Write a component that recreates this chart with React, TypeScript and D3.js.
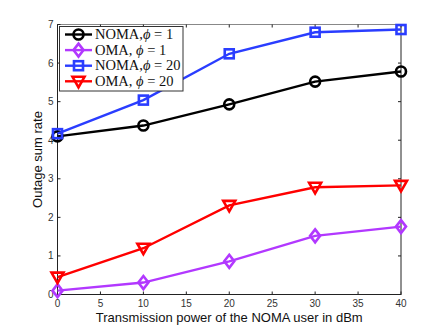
import React from "react";
import * as d3 from "d3";

// transmit power of the NOMA user (dBm)
const powers = [0, 10, 20, 30, 40];

const nomaPhi1 = [4.1, 4.38, 4.93, 5.52, 5.78];
const omaPhi1 = [0.1, 0.31, 0.86, 1.52, 1.76];
const nomaPhi20 = [4.17, 5.04, 6.24, 6.8, 6.87];
const omaPhi20 = [0.45, 1.2, 2.31, 2.78, 2.83];

const xTicks = [0, 5, 10, 15, 20, 25, 30, 35, 40];
const yTicks = [0, 1, 2, 3, 4, 5, 6, 7];

const series = [
  { name: "NOMA,", phi: "1", values: nomaPhi1, color: "#000000", marker: "circle" },
  { name: "OMA, ", phi: "1", values: omaPhi1, color: "#b238ff", marker: "diamond" },
  { name: "NOMA,", phi: "20", values: nomaPhi20, color: "#2a3dff", marker: "square" },
  { name: "OMA, ", phi: "20", values: omaPhi20, color: "#ff0000", marker: "triangle" },
];

const W = 443;
const H = 332;
const margin = { top: 24.5, right: 42, bottom: 37.5, left: 57.5 };

function Marker({ type, x, y, color }: { type: string; x: number; y: number; color: string }) {
  const common = { fill: "none", stroke: color, strokeWidth: 2.6 };
  if (type === "circle") return <circle cx={x} cy={y} r={5} {...common} />;
  if (type === "square") return <rect x={x - 4.5} y={y - 4.5} width={9} height={9} {...common} />;
  if (type === "diamond")
    return <path d={`M${x},${y - 6.5}L${x + 5},${y}L${x},${y + 6.5}L${x - 5},${y}Z`} {...common} />;
  return <path d={`M${x - 6},${y - 4.5}L${x + 6},${y - 4.5}L${x},${y + 6}Z`} {...common} />;
}

export default function App() {
  const x = d3.scaleLinear().domain([0, 40]).range([margin.left, W - margin.right]);
  const y = d3.scaleLinear().domain([0, 7]).range([H - margin.bottom, margin.top]);
  const line = d3
    .line<number>()
    .x((_, i) => x(powers[i]))
    .y((d) => y(d));

  const x0 = x(0), x1 = x(40), y0 = y(0), y1 = y(7);
  const tickFont = { fontFamily: "Liberation Sans, Arial, sans-serif", fontSize: 10, fill: "#333" };

  return (
    <svg width={W} height={H} style={{ position: "absolute", left: 0, top: 0, background: "#fff" }}>
      {/* axes box */}
      <rect x={x0} y={y1} width={x1 - x0} height={y0 - y1} fill="none" stroke="#222" strokeWidth={1} />
      <line x1={x0} x2={x1} y1={y1} y2={y1} stroke="#888" strokeWidth={1} />
      {xTicks.map((t) => (
        <g key={"x" + t}>
          <line x1={x(t)} x2={x(t)} y1={y0} y2={y0 - 3} stroke="#222" />
          <line x1={x(t)} x2={x(t)} y1={y1} y2={y1 + 3} stroke="#222" />
          <text x={x(t)} y={y0 + 12} textAnchor="middle" {...tickFont}>
            {t}
          </text>
        </g>
      ))}
      {yTicks.map((t) => (
        <g key={"y" + t}>
          <line x1={x0} x2={x0 + 3} y1={y(t)} y2={y(t)} stroke="#222" />
          <line x1={x1} x2={x1 - 3} y1={y(t)} y2={y(t)} stroke="#222" />
          <text x={x0 - 4} y={y(t) + 3.5} textAnchor="end" {...tickFont}>
            {t}
          </text>
        </g>
      ))}

      {series.map((s) => (
        <g key={s.name + s.phi}>
          <path d={line(s.values) || ""} fill="none" stroke={s.color} strokeWidth={2.4} />
          {s.values.map((v, i) => (
            <Marker key={i} type={s.marker} x={x(powers[i])} y={y(v)} color={s.color} />
          ))}
        </g>
      ))}

      <text
        x={(x0 + x1) / 2}
        y={H - 10}
        textAnchor="middle"
        fontFamily="Liberation Sans, Arial, sans-serif"
        fontSize={13}
        fill="#111"
      >
        Transmission power of the NOMA user in dBm
      </text>
      <text
        transform={`translate(42,${(y0 + y1) / 2}) rotate(-90)`}
        textAnchor="middle"
        fontFamily="Liberation Sans, Arial, sans-serif"
        fontSize={13}
        fill="#111"
      >
        Outage sum rate
      </text>

      {/* legend */}
      <rect x={59.5} y={26.5} width={123.5} height={64.5} fill="#fff" stroke="#333" strokeWidth={1} />
      {series.map((s, i) => {
        const ly = 34.5 + i * 15.6;
        return (
          <g key={"lg" + i}>
            <line x1={65} x2={92} y1={ly} y2={ly} stroke={s.color} strokeWidth={2.4} />
            <Marker type={s.marker} x={78.5} y={ly} color={s.color} />
            <text x={95} y={ly + 4.5} fontFamily="Liberation Serif, Times New Roman, serif" fontSize={14.5} fill="#111">
              {s.name}
              <tspan fontStyle="italic">ϕ</tspan>
              {" = " + s.phi}
            </text>
          </g>
        );
      })}
    </svg>
  );
}
